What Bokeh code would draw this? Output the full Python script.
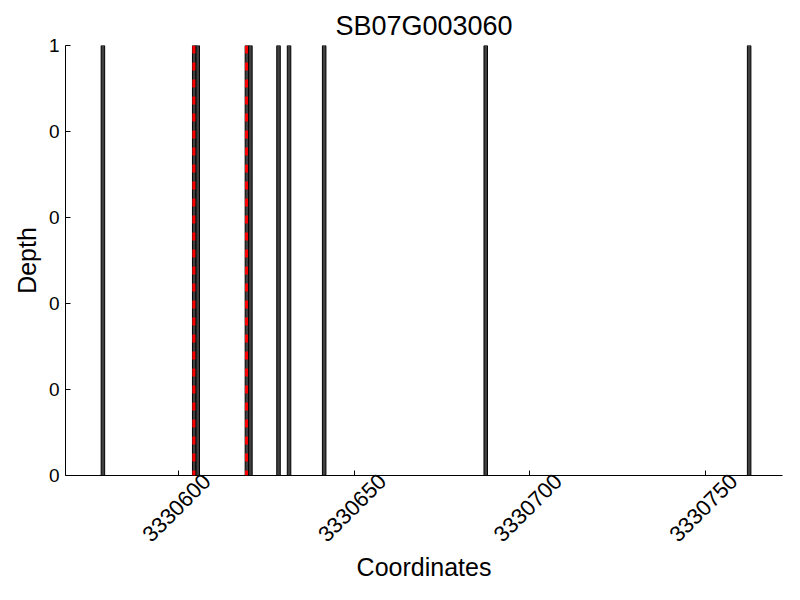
import math
from bokeh.plotting import figure
from bokeh.models import Range1d, FixedTicker, Span, LinearAxis, BasicTickFormatter
from bokeh.embed import file_html
from bokeh.resources import INLINE

title_text = "SB07G003060"
positions = [3330578, 3330604, 3330605, 3330619, 3330620, 3330628, 3330631, 3330641, 3330687, 3330762]
depths = [1, 1, 1, 1, 1, 1, 1, 1, 1, 1]
variant_positions = [3330604, 3330619]
x_ticks = [3330600, 3330650, 3330700, 3330750]
y_ticks = [0, 0.2, 0.4, 0.6, 0.8, 1.0]
y_tick_labels = ["0", "0", "0", "0", "0", "1"]

FONT = "Liberation Sans"
X0, X1 = 3330567.75, 3330771.9
LABEL_SHIFT = 8.0  # data units: centre rotated labels on their ticks

p = figure(
    output_backend="svg", toolbar_location=None,
    width=800, height=600,
    frame_width=717, frame_height=430,
    min_border_left=65, min_border_right=18, min_border_top=45, min_border_bottom=125,
    x_range=Range1d(X0, X1), y_range=Range1d(0, 1),
    title=title_text,
)
p.extra_x_ranges = {"lab": Range1d(X0 - LABEL_SHIFT, X1 - LABEL_SHIFT)}
p.outline_line_color = None
p.xgrid.visible = False
p.ygrid.visible = False

p.title.align = "center"
p.title.text_font = FONT
p.title.text_font_size = "27px"
p.title.text_font_style = "normal"
p.title.text_color = "black"

centers = [x + 0.4 for x in positions]
p.vbar(x=centers, top=depths, bottom=0, width=1.0,
       fill_color="#404040", line_color="black", line_width=1)

for v in variant_positions:
    p.add_layout(Span(location=v + 0.3, dimension="height", line_color="red",
                      line_width=3, line_dash="8 9"))

xa = p.xaxis[0]
xa.ticker = FixedTicker(ticks=x_ticks)
xa.major_label_overrides = {t: "" for t in x_ticks}
xa.major_label_standoff = 0
ya = p.yaxis[0]
ya.ticker = FixedTicker(ticks=y_ticks)
ya.major_label_overrides = {t: lab for t, lab in zip(y_ticks, y_tick_labels)}
ya.axis_label = "Depth"

lab_axis = LinearAxis(x_range_name="lab", ticker=FixedTicker(ticks=x_ticks),
                      formatter=BasicTickFormatter(use_scientific=False))
lab_axis.major_label_orientation = math.pi / 4
lab_axis.axis_line_color = None
lab_axis.major_tick_line_color = None
lab_axis.minor_tick_line_color = None
lab_axis.axis_label = "Coordinates"
p.add_layout(lab_axis, "below")

for ax in (xa, ya, lab_axis):
    ax.major_tick_in = 5
    ax.major_tick_out = 0
    ax.minor_tick_in = 0
    ax.minor_tick_out = 0
    ax.major_label_text_font = FONT
    ax.major_label_text_font_size = "19px"
    ax.major_label_text_color = "black"
    ax.axis_label_text_font = FONT
    ax.axis_label_text_font_size = "25px"
    ax.axis_label_text_font_style = "normal"
    ax.axis_label_text_color = "black"
xa.axis_line_color = "black"
ya.axis_line_color = "black"
xa.major_tick_line_color = "black"
ya.major_tick_line_color = "black"
xa.major_label_text_font_size = "1px"
lab_axis.major_tick_in = 0
lab_axis.major_label_text_font_size = "22px"
lab_axis.major_label_standoff = 2
lab_axis.axis_label_standoff = 1
ya.major_label_standoff = 6

open("out.html", "w").write(file_html(p, INLINE))
